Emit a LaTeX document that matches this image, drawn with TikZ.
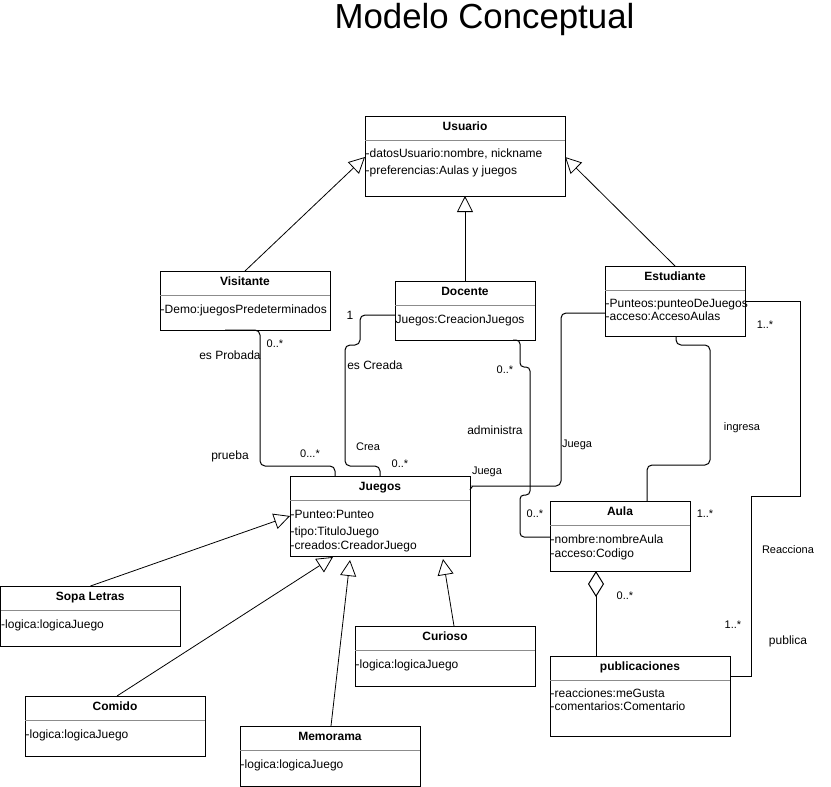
\documentclass[tikz,border=0pt]{standalone}
\usepackage{fontspec}
\setmainfont{Liberation Sans}
\usetikzlibrary{arrows.meta,calc}
\newcommand{\umlbox}[6]{%
  \node[box, minimum width=#4pt, minimum height=#5pt] (#1) at (#2,#3) {};
  \node[hdr] (#1-t) at ($(#1.north)+(0,10)$) {#6};
  \draw[sepline] ($(#1.north west)+(0,24)$) -- ($(#1.north east)+(0,24)$);
}
\newcommand{\umlattr}[4]{%
  \node[attr] (#1) at ($(#2.north west)+(0.5,#3)$) {#4};
}
\begin{document}
\begin{tikzpicture}[x=1pt,y=-1pt,
  box/.style={draw, line width=1pt, inner sep=0pt, outer sep=0pt, anchor=north west},
  hdr/.style={font=\fontsize{12}{14}\selectfont\bfseries, inner sep=0pt, text height=9pt, text depth=2.5pt, yshift=-0.8pt},
  attr/.style={font=\fontsize{12}{14}\selectfont, inner sep=0pt, anchor=west, text height=9pt, text depth=2.5pt, yshift=-0.8pt},
  sepline/.style={draw=black!45, line width=0.8pt},
  lbl/.style={font=\fontsize{12}{14}\selectfont, inner sep=0pt, text height=9pt, text depth=2.5pt, yshift=-0.8pt},
  slbl/.style={font=\fontsize{11}{13}\selectfont, inner sep=0pt, text height=8pt, text depth=2.3pt, yshift=-0.8pt},
  gen/.style={line width=0.8pt, -{Triangle[open, length=16pt, width=16pt, fill=white]}},
  assoc/.style={line width=1pt, rounded corners=5pt},
]
\useasboundingbox (0,0) rectangle (831,787);

\node[font=\fontsize{34.8}{40}\selectfont, inner sep=0pt, anchor=base] (title) at (484.5,28.5) {Modelo Conceptual};

% classes
\umlbox{usuario}{365}{116}{200}{80}{Usuario}
\umlattr{usuario-a1}{usuario}{37}{-datosUsuario:nombre, nickname}
\umlattr{usuario-a2}{usuario}{54}{-preferencias:Aulas y juegos}

\umlbox{visitante}{160}{271}{170}{59}{Visitante}
\umlattr{visitante-a1}{visitante}{38}{-Demo:juegosPredeterminados}

\umlbox{docente}{395}{281}{140}{59}{Docente}
\umlattr{docente-a1}{docente}{38}{Juegos:CreacionJuegos}

\umlbox{estudiante}{605}{266}{140}{70}{Estudiante}
\umlattr{estudiante-a1}{estudiante}{37}{-Punteos:punteoDeJuegos}
\umlattr{estudiante-a2}{estudiante}{50}{-acceso:AccesoAulas}

\umlbox{juegos}{290}{476}{180}{80}{Juegos}
\umlattr{juegos-a1}{juegos}{38}{-Punteo:Punteo}
\umlattr{juegos-a2}{juegos}{55}{-tipo:TituloJuego}
\umlattr{juegos-a3}{juegos}{69}{-creados:CreadorJuego}

\umlbox{sopa}{0.5}{586}{179.5}{60}{Sopa Letras}
\umlattr{sopa-a1}{sopa}{38}{-logica:logicaJuego}

\umlbox{comido}{25}{696}{180}{60}{Comido}
\umlattr{comido-a1}{comido}{38}{-logica:logicaJuego}

\umlbox{memorama}{240}{726}{180}{60}{Memorama}
\umlattr{memorama-a1}{memorama}{38}{-logica:logicaJuego}

\umlbox{curioso}{355}{626}{180}{60}{Curioso}
\umlattr{curioso-a1}{curioso}{38}{-logica:logicaJuego}

\umlbox{aula}{550}{501}{140}{70}{Aula}
\umlattr{aula-a1}{aula}{38}{-nombre:nombreAula}
\umlattr{aula-a2}{aula}{52}{-acceso:Codigo}

\umlbox{pub}{550}{656}{180}{80}{publicaciones}
\umlattr{pub-a1}{pub}{37}{-reacciones:meGusta}
\umlattr{pub-a2}{pub}{50}{-comentarios:Comentario}

% generalizations
\draw[gen] ($(visitante.north west)+(85,0)$) -- ($(usuario.north west)+(0,41)$);
\draw[gen] (docente.north) -- (usuario.south);
\draw[gen] ($(estudiante.north west)+(70,0)$) -- ($(usuario.north east)+(0,41)$);
\draw[gen] ($(sopa.north west)+(90,0)$) -- ($(juegos.north west)+(0,40)$);
\draw[gen] ($(comido.north west)+(92,0)$) -- ($(juegos.south west)+(43,1)$);
\draw[gen] ($(memorama.north west)+(91,0)$) -- ($(juegos.south west)+(60,4)$);
\draw[gen] ($(curioso.north west)+(99,0)$) -- ($(juegos.south west)+(153,3)$);

% associations
\draw[assoc] ($(visitante.south west)+(65,0)$) -- ++(35,0) |- ($(juegos.north west)+(45,-10)$) -- ($(juegos.north west)+(45,0)$);
\draw[assoc] ($(docente.north west)+(0,34)$) -- ++(-35,0) -- ++(0,30) -- ++(-15,0) |- ($(juegos.north west)+(90,-10)$) -- ($(juegos.north west)+(90,0)$);
\draw[assoc, rounded corners=4pt] ($(docente.south west)+(118,0)$) -- ++(7,0) -- ++(0,27) -- ++(10,0) -- ++(0,128) -- ++(-10,0) |- ($(aula.north west)+(0,36)$);
\draw[assoc] ($(estudiante.north west)+(0,47)$) -- ++(-44,0) -- ++(0,173) -- ($(juegos.north east)+(7,10)$) to[out=180,in=70] ($(juegos.north east)+(0,14)$);
\draw[assoc] ($(estudiante.south west)+(71,0)$) -- ++(0,9) -- ++(34,0) -- ++(0,120) -| ($(aula.north west)+(97,0)$);
\draw[line width=1pt] ($(estudiante.north east)+(0,35)$) -- ++(55,0) -- ++(0,195) -- ++(-49,0) |- ($(pub.north east)+(0,20)$);
\draw[line width=1pt, {Diamond[open, length=26pt, width=16pt, fill=white]}-] ($(aula.south west)+(46,0)$) -- ($(pub.north west)+(46,0)$);

% labels
\node[slbl] (l1) at (275,344) {0..*};
\node[lbl] (l2) at (230,355) {es Probada};
\node[lbl] (l3) at (350,315) {1};
\node[lbl] (l4) at (375,365) {es Creada};
\node[slbl] (l5) at (505,370) {0..*};
\node[lbl] (l6) at (495,430) {administra};
\node[slbl] (l7) at (368,447) {Crea};
\node[lbl] (l8) at (230,455) {prueba};
\node[slbl] (l9) at (310,454) {0...*};
\node[slbl] (l10) at (400,464) {0..*};
\node[slbl] (l11) at (487,471) {Juega};
\node[slbl] (l12) at (577,444) {Juega};
\node[slbl] (l13) at (742,427) {ingresa};
\node[slbl] (l14) at (765,325) {1..*};
\node[slbl] (l15) at (535,514) {0..*};
\node[slbl] (l16) at (705,514) {1..*};
\node[slbl] (l17) at (788,550) {Reacciona};
\node[slbl] (l18) at (625,596) {0..*};
\node[slbl] (l19) at (733,625) {1..*};
\node[lbl] (l20) at (788,640) {publica};
\end{tikzpicture}
\end{document}
